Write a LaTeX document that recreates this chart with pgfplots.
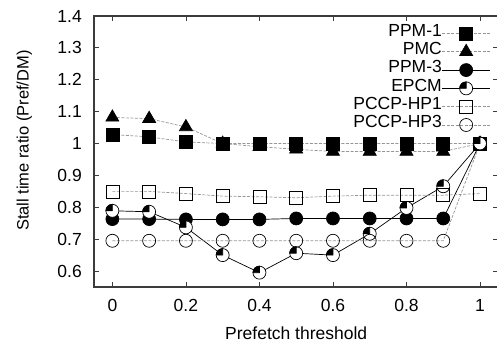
\documentclass[border=0pt]{standalone}
\usepackage{fontspec}
\setmainfont{Liberation Sans}
\newfontfamily\plainfont{Liberation Sans}
\usepackage{pgfplots}
\pgfplotsset{compat=1.18}
\pgfdeclareplotmark{pie}{%
  \pgfpathcircle{\pgfpointorigin}{\pgfplotmarksize}%
  \pgfsetfillcolor{white}\pgfusepathqfillstroke
  \pgfpathmoveto{\pgfpointorigin}%
  \pgfpathlineto{\pgfqpoint{-\pgfplotmarksize}{0pt}}%
  \pgfpatharc{180}{90}{\pgfplotmarksize}%
  \pgfpathclose
  \pgfsetfillcolor{black}\pgfusepathqfillstroke
}
\definecolor{lgray}{RGB}{150,150,150}
\definecolor{axgray}{RGB}{60,60,60}
\begin{document}
\fontsize{17.5}{20}\selectfont
\begin{tikzpicture}
\begin{axis}[
  scale only axis,
  width=404.4pt, height=271pt,
  xmin=-0.05, xmax=1.05, ymin=0.55, ymax=1.4,
  xtick={0,0.2,0.4,0.6,0.8,1},
  ytick={0.6,0.7,0.8,0.9,1,1.1,1.2,1.3,1.4},
  xticklabels={0,0.2,0.4,0.6,0.8,1},
  yticklabels={0.6,0.7,0.8,0.9,1,1.1,1.2,1.3,1.4},
  tick align=inside, major tick length=5pt,
  tick style={axgray, line width=0.8pt},
  axis line style={axgray, line width=1.2pt},
  /pgf/number format/assume math mode=true,
  tick label style={font=\fontsize{17.5}{20}\selectfont, inner sep=0pt},
  xticklabel style={anchor=base, yshift=-24.5pt},
  yticklabel style={anchor=east, xshift=-12pt},
  xlabel={Prefetch threshold},
  ylabel={Stall time ratio (Pref/DM)},
  xlabel style={at={(axis description cs:0.5,-0.192)}, anchor=base, font=\fontsize{17.5}{20}\selectfont},
  ylabel style={at={(axis description cs:-0.153,0.54)}, anchor=south, inner sep=0pt, font=\fontsize{16.5}{19}\selectfont},
  legend plot pos=right,
  legend cell align=right,
  legend style={draw=none, fill=none, inner sep=0pt, at={(rel axis cs:0.981,0.97)}, anchor=north east,
    nodes={inner sep=0pt, text height=12pt, text depth=6.3pt, font=\fontsize{17.5}{20}\selectfont},
    column sep=0pt, row sep=0pt},
  legend image code/.code={\draw[mark repeat=2,mark phase=2,#1] plot coordinates {(0pt,0pt)(24pt,0pt)(48pt,0pt)};},
  every axis plot/.append style={line width=0.7pt},
]
\addplot[lgray, dash pattern=on 3pt off 1.5pt, mark=square*, mark size=6.5pt, mark options={solid, draw=black, fill=black}] coordinates {
(0,1.028)(0.1,1.021)(0.2,1.005)(0.3,1.0)(0.4,1.0)(0.5,1.0)(0.6,1.0)(0.7,1.0)(0.8,1.0)(0.9,1.0)(1,1.0)};
\addlegendentry{PPM-1}
\addplot[lgray, dash pattern=on 3pt off 1.5pt, mark=triangle*, mark size=7.5pt, mark options={solid, draw=black, fill=black}] coordinates {
(0,1.082)(0.1,1.078)(0.2,1.052)(0.3,1.0)(0.4,0.99)(0.5,0.982)(0.6,0.975)(0.7,0.975)(0.8,0.975)(0.9,0.975)(1,1.0)};
\addlegendentry{PMC}
\addplot[black, mark=*, mark size=6.5pt, mark options={solid, draw=black, fill=black}] coordinates {
(0,0.763)(0.1,0.763)(0.2,0.762)(0.3,0.762)(0.4,0.762)(0.5,0.765)(0.6,0.765)(0.7,0.765)(0.8,0.765)(0.9,0.765)(1,1.0)};
\addlegendentry{PPM-3}
\addplot[black, mark=pie, mark size=6.5pt, mark options={solid, draw=black, line width=0.7pt}] coordinates {
(0,0.789)(0.1,0.786)(0.2,0.737)(0.3,0.650)(0.4,0.595)(0.5,0.656)(0.6,0.650)(0.7,0.717)(0.8,0.798)(0.9,0.866)(1,1.0)};
\addlegendentry{EPCM}
\addplot[lgray, dash pattern=on 3pt off 1.5pt, mark=square, mark size=6.5pt, mark options={solid, draw=black, fill=none}] coordinates {
(0,0.850)(0.1,0.850)(0.2,0.843)(0.3,0.835)(0.4,0.833)(0.5,0.830)(0.6,0.835)(0.7,0.838)(0.8,0.838)(0.9,0.838)(1,0.843)};
\addlegendentry{PCCP-HP1}
\addplot[lgray, dash pattern=on 3pt off 1.5pt, mark=o, mark size=6.5pt, mark options={solid, draw=black, fill=none}] coordinates {
(0,0.695)(0.1,0.695)(0.2,0.695)(0.3,0.695)(0.4,0.695)(0.5,0.695)(0.6,0.695)(0.7,0.695)(0.8,0.695)(0.9,0.695)(1,1.0)};
\addlegendentry{PCCP-HP3}
\end{axis}
\pgfresetboundingbox
\path[use as bounding box] (current axis.south west) ++(-94pt,-55pt) rectangle ++(497pt,342pt);
\end{tikzpicture}
\end{document}
